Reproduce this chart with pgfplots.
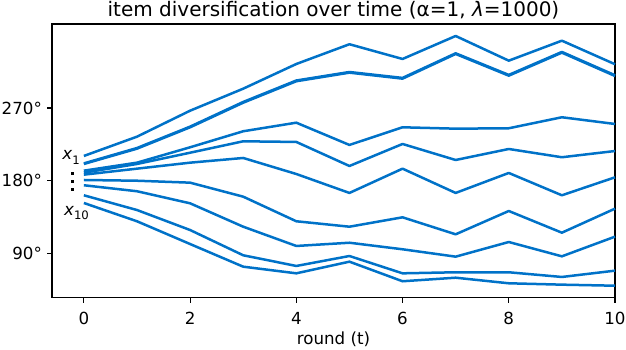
\documentclass[border=0pt]{standalone}
\usepackage{fontspec}
\setmainfont{DejaVu Sans}
\usepackage{pgfplots}
\pgfplotsset{compat=1.18}
\usepackage{pgfplotstable}

\definecolor{lineblue}{RGB}{0,114,200}

% angle of each item per round
\pgfplotstableread{
x  l1    l2    l2b   l3    l4    l5    l6    l7    l8    l9
0  210.8 200.9 201.6 192.6 190.1 187.7 181.1 174.6 162.2 152.7
1  234.6 219.8 220.6 202.5 200.9 195.1 180.2 167.2 144.0 130.1
2  266.7 246.2 247.0 221.5 214.8 202.5 177.8 152.3 119.3 102.0
3  293.9 276.6 277.5 241.3 228.9 208.3 160.5 123.4  88.1  74.0
4  324.4 303.1 304.0 251.9 228.1 188.5 130.1  99.6  74.9  65.8
5  348.8 313.7 314.5 224.4 198.4 165.1 123.4 103.6  87.2  80.2
6  330.6 306.3 307.2 246.2 225.6 195.1 135.0  95.5  65.8  56.0
7  359.0 336.8 337.6 244.5 205.8 165.1 114.0  86.4  67.1  60.4
8  328.5 310.0 310.9 245.0 219.4 189.8 142.8 104.5  67.1  53.5
9  353.2 338.4 339.3 258.6 209.2 162.2 116.0  86.8  61.3  51.8
10 324.1 309.6 310.5 250.3 216.9 184.4 145.7 111.1  69.1  50.5
}\diversity

\begin{document}
\begin{tikzpicture}
\begin{axis}[
    name=ax,
    at={(0,0)}, anchor=south west,
    scale only axis,
    width=405.36pt, height=197.06pt,
    xmin=-0.6, xmax=10,
    ymin=35.7, ymax=373.8,
    xtick={0,2,4,6,8,10},
    xticklabels={0,2,4,6,8,10},
    ytick={90,180,270},
    yticklabels={90°,180°,270°},
    tick align=outside,
    tick pos=left,
    major tick length=3.5pt,
    every tick/.style={black, line width=0.8pt},
    axis line style={line width=0.8pt},
    xticklabel style={font=\fontsize{12}{14}\selectfont, inner sep=0pt, anchor=north, yshift=-6.6pt},
    yticklabel style={font=\fontsize{12}{14}\selectfont, inner sep=0pt, anchor=east, xshift=-3.6pt},
    title={item diversification over time (α=1, \textit{λ}=1000)},
    every axis title shift=0pt,
    title style={font=\fontsize{14.4}{17}\selectfont, at={(axis description cs:0.5,1)}, anchor=base, inner sep=0pt, yshift=5.3pt},
    xlabel={round (t)},
    xlabel style={font=\fontsize{12}{14}\selectfont, at={(axis description cs:0.5,0)}, anchor=base, inner sep=0pt, yshift=-33.7pt},
    item/.style={lineblue, line width=1.8pt, line join=round, no markers, solid},
    clip=false,
]
\addplot[item] table[x=x, y=l1] {\diversity};
\addplot[item] table[x=x, y=l2] {\diversity};
\addplot[item] table[x=x, y=l2b] {\diversity};
\addplot[item] table[x=x, y=l3] {\diversity};
\addplot[item] table[x=x, y=l4] {\diversity};
\addplot[item] table[x=x, y=l5] {\diversity};
\addplot[item] table[x=x, y=l6] {\diversity};
\addplot[item] table[x=x, y=l7] {\diversity};
\addplot[item] table[x=x, y=l8] {\diversity};
\addplot[item] table[x=x, y=l9] {\diversity};

\node[font=\fontsize{12}{14}\selectfont, inner sep=0pt] at (axis cs:-0.24,208.9)
    {\textit{x}\raisebox{-3.5pt}{\fontsize{8.4}{10}\selectfont 1}};
\node[inner sep=0pt] at (axis cs:-0.21,179.6)
    {\vbox{\offinterlineskip\hbox{\rule{2.2pt}{2.2pt}}\kern3.6pt\hbox{\rule{2.2pt}{2.2pt}}\kern3.6pt\hbox{\rule{2.2pt}{2.2pt}}}};
\node[font=\fontsize{12}{14}\selectfont, inner sep=0pt] at (axis cs:-0.14,140.3)
    {\textit{x}\raisebox{-3.5pt}{\fontsize{8.4}{10}\selectfont 10}};
\end{axis}
\pgfresetboundingbox
\path[use as bounding box] (-37.44pt,-37.66pt) rectangle (413.28pt,214.34pt);
\end{tikzpicture}
\end{document}
